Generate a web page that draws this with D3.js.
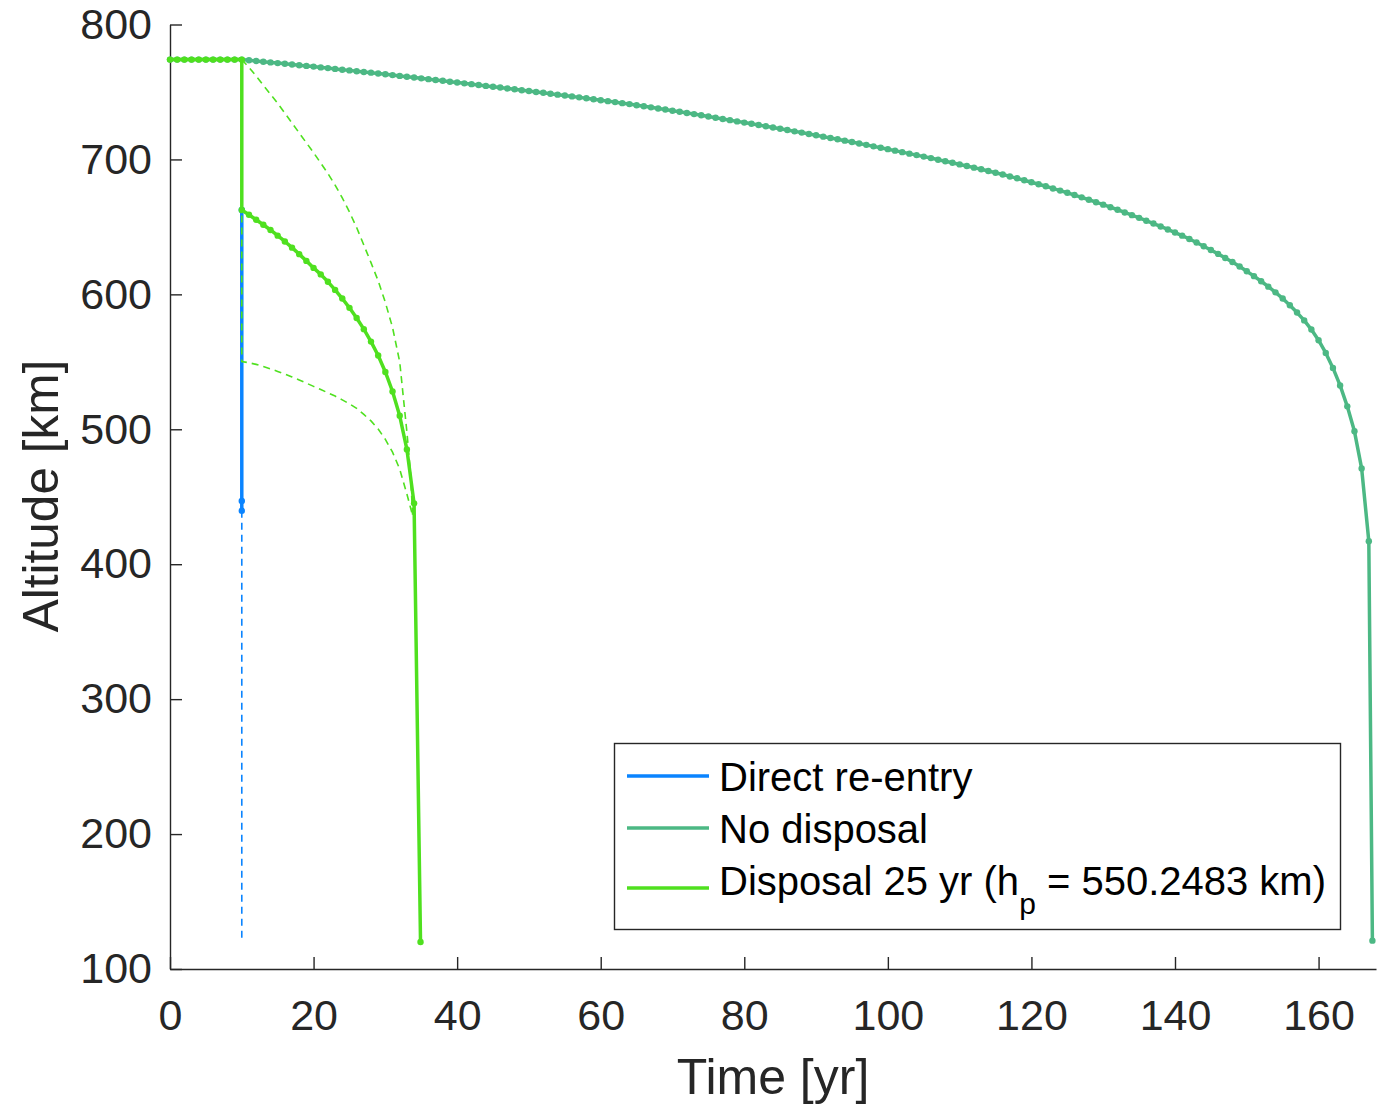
<!DOCTYPE html>
<html>
<head>
<meta charset="utf-8">
<script src="https://cdn.jsdelivr.net/npm/d3@7"></script>
<style>
  html, body { margin: 0; padding: 0; background: #fff; }
  svg { display: block; font-family: "Liberation Sans", Arial, Helvetica, sans-serif; }
</style>
</head>
<body>
<svg id="chart" width="1379" height="1105"></svg>
<script>
// ---- data (time in years, altitude in km) ----
const xTicks = [0, 20, 40, 60, 80, 100, 120, 140, 160];
const yTicks = [100, 200, 300, 400, 500, 600, 700, 800];

// No disposal: natural decay, yearly samples, then re-entry
const noDisposalTime = d3.range(0, 168).concat([167.5]);
const noDisposalAlt = [
  774.0, 774.0, 774.0, 774.0, 774.0, 774.0, 774.0, 774.0, 774.0, 774.0,
  774.0, 773.5, 773.0, 772.4, 771.9, 771.4, 770.9, 770.4, 769.8, 769.3,
  768.8, 768.2, 767.7, 767.1, 766.5, 766.0, 765.4, 764.8, 764.3, 763.7,
  763.1, 762.5, 761.9, 761.3, 760.7, 760.1, 759.5, 758.9, 758.3, 757.6,
  757.0, 756.4, 755.8, 755.2, 754.5, 753.9, 753.3, 752.6, 752.0, 751.3,
  750.7, 750.0, 749.4, 748.7, 748.0, 747.4, 746.7, 746.0, 745.3, 744.6,
  743.9, 743.2, 742.5, 741.7, 741.0, 740.2, 739.4, 738.6, 737.8, 737.0,
  736.1, 735.3, 734.4, 733.6, 732.7, 731.8, 730.9, 730.0, 729.1, 728.2,
  727.3, 726.4, 725.5, 724.6, 723.7, 722.7, 721.8, 720.8, 719.9, 718.9,
  717.9, 716.9, 715.9, 714.9, 713.9, 712.9, 711.8, 710.8, 709.7, 708.7,
  707.6, 706.5, 705.4, 704.3, 703.2, 702.1, 701.0, 699.8, 698.7, 697.5,
  696.3, 695.1, 693.9, 692.7, 691.4, 690.1, 688.8, 687.4, 686.0, 684.6,
  683.1, 681.6, 680.1, 678.5, 676.9, 675.3, 673.6, 671.9, 670.1, 668.3,
  666.5, 664.6, 662.7, 660.7, 658.7, 656.7, 654.6, 652.5, 650.3, 648.1,
  645.8, 643.5, 641.0, 638.4, 635.7, 632.9, 630.0, 627.0, 624.0, 620.6,
  617.1, 613.5, 609.7, 605.7, 601.5, 596.9, 591.9, 586.5, 580.7, 573.9,
  566.0, 556.6, 545.5, 532.5, 517.0, 498.5, 471.0, 417.0,
  121.0
];

// Disposal within 25 yr: operations, manoeuvre at 10 yr, mean altitude decay
const disposalTime = [0, 1, 2, 3, 4, 5, 6, 7, 8, 9, 10,
  10, 11, 12, 13, 14, 15, 16, 17, 18, 19, 20, 21, 22, 23, 24, 25, 26, 27, 28, 29,
  30, 31, 32, 33, 34, 34.9];
const disposalAlt = [774, 774, 774, 774, 774, 774, 774, 774, 774, 774, 774,
  662.5, 659.0, 655.3, 651.6, 647.7, 643.5, 639.2, 634.6, 629.8, 624.8,
  619.6, 614.8, 609.3, 603.3, 596.9, 590.0, 582.5, 574.2, 565.0, 554.7,
  542.5, 528.0, 510.0, 485.1, 445.1, 120.0];

// Apogee and perigee of the disposal orbit
const apogeeTime = [10, 11, 12, 13, 14, 15, 16, 17, 18, 19, 20, 21, 22, 23, 24, 25,
  26, 27, 28, 29, 30, 31, 32, 33, 33.5, 33.8];
const apogeeAlt = [774.0, 768.2, 761.8, 755.0, 748.3, 741.5, 734.3, 727.0, 719.6, 712.3,
  705.0, 697.3, 689.5, 681.0, 671.5, 661.0, 649.5, 636.6, 623.5, 610.0,
  594.0, 575.5, 550.0, 498.0, 468.0, 436.0];
const perigeeTime = [10, 10, 11, 12, 13, 14, 15, 16, 17, 18, 19, 20, 21, 22, 23, 24, 25,
  26, 27, 28, 29, 30, 31, 32, 33, 33.5, 33.8];
const perigeeAlt = [774.0, 550.25, 549.3, 548.1, 546.5, 544.8, 542.9, 541.0, 538.8, 536.5,
  534.2, 531.8, 529.5, 527.0, 524.6, 521.8, 518.8, 515.5, 511.0, 506.2,
  500.2, 492.5, 483.0, 470.5, 452.0, 442.0, 436.0];

// Direct re-entry manoeuvre at 10 yr
const directTime = [10, 10, 10];
const directAlt = [662.5, 446.9, 439.6];
const directTailTime = [10, 10];
const directTailAlt = [439.6, 120.0];

const colors = { direct: "#0a84ff", none: "#4cb884", disposal: "#4fe01f", axis: "#262626" };

// ---- layout ----
const svg = d3.select("#chart");
svg.append("rect").attr("width", 1379).attr("height", 1105).attr("fill", "#fff");

const x = d3.scaleLinear().domain([0, 168]).range([170, 1376]);
const y = d3.scaleLinear().domain([100, 800]).range([969, 24.5]);

const zip = (ts, hs) => ts.map((t, i) => [t, hs[i]]);
const line = d3.line().x(d => x(d[0])).y(d => y(d[1]));

// ---- axes ----
const xAxis = d3.axisBottom(x).tickValues(xTicks).tickFormat(d3.format("d"))
  .tickSizeInner(-12).tickSizeOuter(0).tickPadding(30);
const yAxis = d3.axisLeft(y).tickValues(yTicks).tickFormat(d3.format("d"))
  .tickSizeInner(-12).tickSizeOuter(0).tickPadding(18);

const gx = svg.append("g").attr("transform", `translate(0,${y(100)})`).call(xAxis);
const gy = svg.append("g").attr("transform", `translate(${x(0)},0)`).call(yAxis);
[gx, gy].forEach(g => {
  g.select(".domain").attr("stroke", colors.axis).attr("stroke-width", 1.4);
  g.selectAll(".tick line").attr("stroke", colors.axis).attr("stroke-width", 1.4);
  g.selectAll(".tick text").attr("fill", colors.axis)
    .style("font-size", "43px").style("font-family", "'Liberation Sans', Arial, sans-serif");
});

svg.append("text").attr("x", 773).attr("y", 1094).attr("text-anchor", "middle")
  .attr("fill", colors.axis).style("font-size", "50px").text("Time [yr]");
svg.append("text").attr("transform", "translate(58,496) rotate(-90)").attr("text-anchor", "middle")
  .attr("fill", colors.axis).style("font-size", "49.5px").text("Altitude [km]");

// ---- series ----
const plot = svg.append("g");

function solid(ts, hs, color) {
  const pts = zip(ts, hs);
  plot.append("path").datum(pts).attr("d", line).attr("fill", "none")
    .attr("stroke", color).attr("stroke-width", 3.5).attr("stroke-linejoin", "round");
  plot.append("g").selectAll("circle").data(pts).join("circle")
    .attr("cx", d => x(d[0])).attr("cy", d => y(d[1])).attr("r", 3.2).attr("fill", color);
}
function dashed(ts, hs, color) {
  plot.append("path").datum(zip(ts, hs)).attr("d", line).attr("fill", "none")
    .attr("stroke", color).attr("stroke-width", 1.6).attr("stroke-dasharray", "7,5");
}

solid(directTime, directAlt, colors.direct);
dashed(directTailTime, directTailAlt, colors.direct);
solid(noDisposalTime, noDisposalAlt, colors.none);
solid(disposalTime, disposalAlt, colors.disposal);
dashed(apogeeTime, apogeeAlt, colors.disposal);
dashed(perigeeTime, perigeeAlt, colors.disposal);

// ---- legend ----
const legend = svg.append("g");
legend.append("rect").attr("x", 614.5).attr("y", 743.5).attr("width", 726).attr("height", 186)
  .attr("fill", "#fff").attr("stroke", colors.axis).attr("stroke-width", 1.4);

const entries = [
  { color: colors.direct, ly: 776, ty: 791, label: "Direct re-entry" },
  { color: colors.none, ly: 828, ty: 843, label: "No disposal" },
  { color: colors.disposal, ly: 888, ty: 895, label: null }
];
entries.forEach(e => {
  legend.append("line").attr("x1", 627).attr("x2", 709).attr("y1", e.ly).attr("y2", e.ly)
    .attr("stroke", e.color).attr("stroke-width", 3.5);
  const t = legend.append("text").attr("x", 719).attr("y", e.ty).attr("fill", "#000")
    .style("font-size", "40px");
  if (e.label) {
    t.text(e.label);
  } else {
    t.append("tspan").text("Disposal 25 yr (h");
    t.append("tspan").attr("dy", 19).style("font-size", "30px").text("p");
    t.append("tspan").attr("dy", -19).text(" = 550.2483 km)");
  }
});
</script>
</body>
</html>
